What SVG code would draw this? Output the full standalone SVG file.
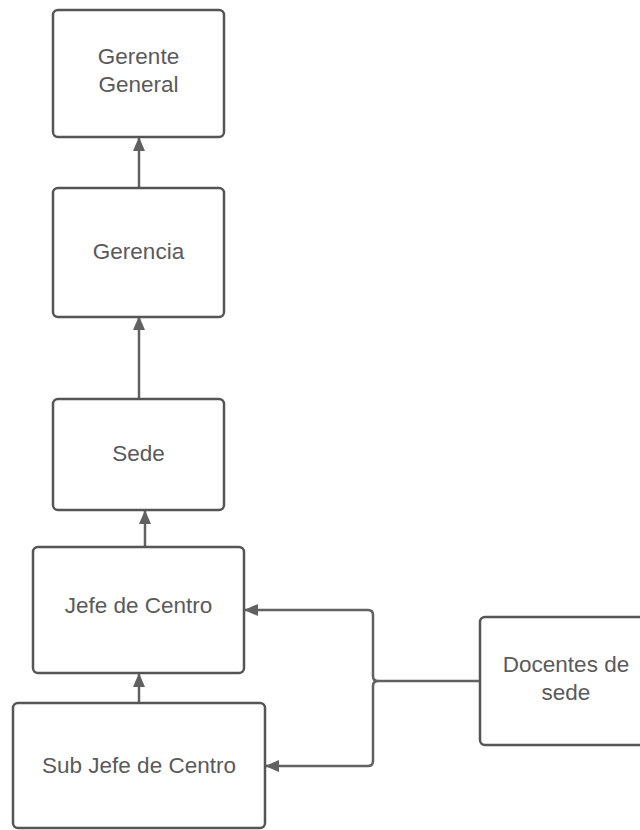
<svg xmlns="http://www.w3.org/2000/svg" width="640" height="830" viewBox="0 0 640 830">
<style>
.box{fill:#fff;stroke:#555;stroke-width:2.5}
.lbl{font-family:"Liberation Sans",Arial,sans-serif;font-size:22.5px;fill:#5a5a5a;text-anchor:middle}
.edge{fill:none;stroke:#616161;stroke-width:2.5}
</style>
<defs>
<marker id="ah" markerWidth="14" markerHeight="12" refX="13" refY="6" orient="auto" markerUnits="userSpaceOnUse">
<path d="M0,0 L14,6 L0,12 Z" fill="#616161"/>
</marker>
</defs>
<rect width="640" height="830" fill="#fff"/>
<g id="connectors">
<path class="edge" d="M139,188 L139,138" marker-end="url(#ah)"/>
<path class="edge" d="M139,400 L139,317" marker-end="url(#ah)"/>
<path class="edge" d="M145,547 L145,511" marker-end="url(#ah)"/>
<path class="edge" d="M139,703 L139,674" marker-end="url(#ah)"/>
<path class="edge" d="M480,681 L378,681 Q373,681 373,676 L373,615 Q373,610 368,610 L245,610" marker-end="url(#ah)"/>
<path class="edge" d="M378,681 Q373,681 373,686 L373,761 Q373,766 368,766 L266,766" marker-end="url(#ah)"/>
</g>
<g id="gerente-general">
<rect class="box" x="53" y="10" width="171" height="127" rx="5"/>
<text class="lbl" x="138.5" y="64">Gerente</text>
<text class="lbl" x="138.5" y="92">General</text>
</g>
<g id="gerencia">
<rect class="box" x="53" y="188" width="171" height="129" rx="5"/>
<text class="lbl" x="138.5" y="259">Gerencia</text>
</g>
<g id="sede">
<rect class="box" x="53" y="399" width="171" height="111" rx="5"/>
<text class="lbl" x="138.5" y="461">Sede</text>
</g>
<g id="jefe-de-centro">
<rect class="box" x="33" y="547" width="211" height="126" rx="5"/>
<text class="lbl" x="138.5" y="613">Jefe de Centro</text>
</g>
<g id="sub-jefe-de-centro">
<rect class="box" x="13" y="703" width="252" height="125" rx="5"/>
<text class="lbl" x="139" y="773">Sub Jefe de Centro</text>
</g>
<g id="docentes-de-sede">
<rect class="box" x="480" y="617" width="176" height="128" rx="5"/>
<text class="lbl" x="566" y="672">Docentes de</text>
<text class="lbl" x="566" y="700">sede</text>
</g>
</svg>
